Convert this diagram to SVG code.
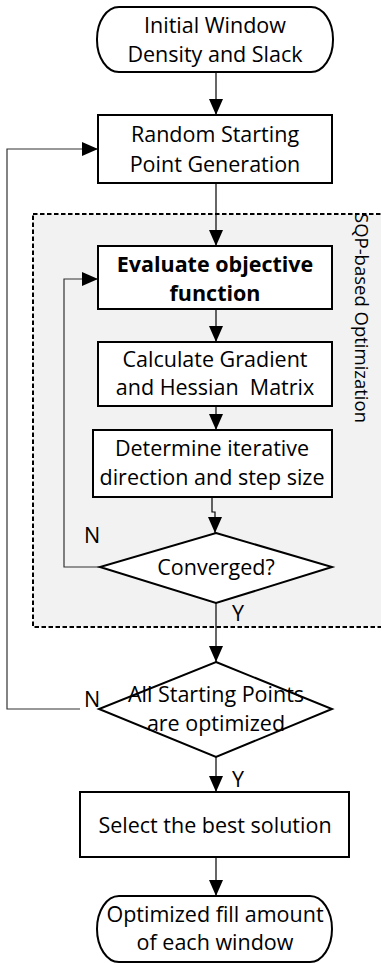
<svg xmlns="http://www.w3.org/2000/svg" width="381" height="963" viewBox="0 0 381 963">
<defs>
<style>
.t{font-family:"Open Sans","Liberation Sans",sans-serif;font-size:21.5px;fill:#000;text-anchor:middle}
.b{font-weight:bold}
.box{fill:#fff;stroke:#000;stroke-width:2}
.c{fill:none;stroke:#000;stroke-width:1.2}
.lp{fill:none;stroke:#333;stroke-width:1.2}
</style>
<marker id="ah" markerUnits="userSpaceOnUse" markerWidth="16" markerHeight="18" viewBox="0 0 16 18" refX="16" refY="7" orient="auto">
<path d="M0,0 L16,7 L0,14 Z" fill="#000"/>
</marker>
</defs>
<rect width="381" height="963" fill="#fff"/>
<g id="sqp-group">
<rect x="33" y="214" width="360" height="413" fill="#f2f2f2" stroke="#000" stroke-width="2" stroke-dasharray="4.5,2.5"/>
<text class="t" transform="translate(355,318) rotate(90)" style="font-size:18.5px">SQP-based Optimization</text>
</g>
<g id="connectors">
<path class="c" d="M216,72 V115" marker-end="url(#ah)"/>
<path class="c" d="M216,183 V246" marker-end="url(#ah)"/>
<path class="c" d="M216,309 V342" marker-end="url(#ah)"/>
<path class="c" d="M216,406 V430" marker-end="url(#ah)"/>
<path class="c" d="M212,497 V512 H215 V533" marker-end="url(#ah)"/>
<path class="c" d="M216,603 V662" marker-end="url(#ah)"/>
<path class="c" d="M216,757 V792" marker-end="url(#ah)"/>
<path class="c" d="M216,857 V896" marker-end="url(#ah)"/>
<path class="lp" d="M100,567 H64 V279 H98" marker-end="url(#ah)"/>
<path class="lp" d="M80,709 H7 V149 H98" marker-end="url(#ah)"/>
<text class="t" x="92" y="543">N</text>
<text class="t" x="238" y="621">Y</text>
<text class="t" x="92" y="707">N</text>
<text class="t" x="238" y="787">Y</text>
</g>
<g id="start">
<rect class="box" x="97" y="7" width="236" height="65" rx="22" ry="32"/>
<text class="t" x="215" y="33">Initial Window</text>
<text class="t" x="215" y="62">Density and Slack</text>
</g>
<g id="random">
<rect class="box" x="98" y="115" width="234" height="68"/>
<text class="t" x="215" y="142">Random Starting</text>
<text class="t" x="215" y="172">Point Generation</text>
</g>
<g id="evaluate">
<rect class="box" x="98" y="246" width="234" height="63"/>
<text class="t b" x="215" y="272">Evaluate objective</text>
<text class="t b" x="215" y="301">function</text>
</g>
<g id="calculate">
<rect class="box" x="98" y="342" width="234" height="64"/>
<text class="t" x="215" y="367">Calculate Gradient</text>
<text class="t" x="215" y="395" style="white-space:pre">and Hessian  Matrix</text>
</g>
<g id="determine">
<rect class="box" x="93" y="430" width="239" height="67"/>
<text class="t" x="212" y="456">Determine iterative</text>
<text class="t" x="212" y="485">direction and step size</text>
</g>
<g id="converged">
<polygon class="box" points="216,533 332,567 216,603 100,567"/>
<text class="t" x="216" y="575">Converged?</text>
</g>
<g id="allpoints">
<polygon class="box" points="216,662 332,709 216,757 99,709"/>
<text class="t" x="216" y="702">All Starting Points</text>
<text class="t" x="216" y="731">are optimized</text>
</g>
<g id="select">
<rect class="box" x="80" y="792" width="269" height="65"/>
<text class="t" x="215" y="833">Select the best solution</text>
</g>
<g id="end">
<rect class="box" x="97" y="896" width="235" height="66" rx="22" ry="33"/>
<text class="t" x="215" y="922">Optimized fill amount</text>
<text class="t" x="215" y="950">of each window</text>
</g>
</svg>
